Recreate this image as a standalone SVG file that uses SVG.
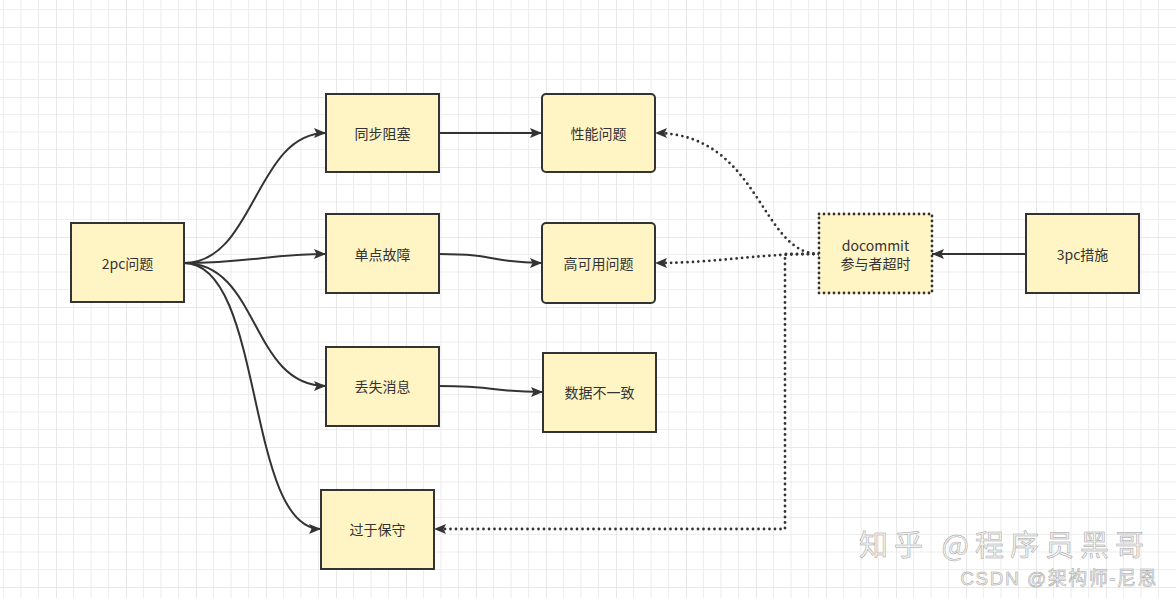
<svg xmlns="http://www.w3.org/2000/svg" width="1176" height="598" viewBox="0 0 1176 598">
<defs>
  <pattern id="grid" patternUnits="userSpaceOnUse" x="56" y="27" width="70" height="70">
    <path d="M17.5 0V70M35 0V70M52.5 0V70M0 17.5H70M0 35H70M0 52.5H70" stroke="#eeeeee" stroke-width="1.2" fill="none"/>
    <path d="M0 0V70M0 0H70" stroke="#e2e2e2" stroke-width="1.6" fill="none"/>
  </pattern>
  <marker id="arr" viewBox="0 0 12 10" refX="12" refY="5" markerWidth="12" markerHeight="10" markerUnits="userSpaceOnUse" orient="auto">
    <path d="M0 0L12 5L0 10L2.5 5Z" fill="#333"/>
  </marker>
  <style>
    .n rect{fill:#fff4c3;stroke:#333;stroke-width:2}
    .n rect.dot{stroke-dasharray:0 5;stroke-linecap:round;stroke-width:2.8}
    .n text{font-family:"Noto Sans CJK SC","Microsoft YaHei",sans-serif;font-size:14px;fill:#333;text-anchor:middle;dominant-baseline:central}
    .c path{fill:none;stroke:#333;stroke-width:2;marker-end:url(#arr)}
    .c path.d{stroke-dasharray:0 5.5;stroke-linecap:round;stroke-width:2.8}
    .wm{fill:#f3f3f3;stroke:#a0a0a0;stroke-width:0.5}
  </style>
</defs>
<rect width="1176" height="598" fill="#fff"/>
<rect width="1176" height="598" fill="url(#grid)"/>

<g id="connectors" class="c">
  <path d="M184 263C255 263 255 133 326 133"/>
  <path d="M184 263C250 263 270 254 326 254"/>
  <path d="M184 263C260 263 250 386 326 386"/>
  <path d="M184 263C265 263 245 529 321 529"/>
  <path d="M439 133L542 133"/>
  <path d="M439 254C500 254 490 263 542 263"/>
  <path d="M439 386C500 386 490 392 543 392"/>
  <path d="M1026 254L932 254"/>
  <path class="d" d="M819 254C760 254 760 133 655 133"/>
  <path class="d" d="M819 254C750 254 720 263 655 263"/>
  <path class="d" d="M819 254L785 254L785 529L434 529"/>
</g>

<g id="n2pc" class="n"><rect x="71" y="223" width="113" height="79"/><text x="127.5" y="263">2pc问题</text></g>
<g id="nsync" class="n"><rect x="326" y="94" width="113" height="78"/><text x="382.5" y="133">同步阻塞</text></g>
<g id="nsingle" class="n"><rect x="326" y="214" width="113" height="79"/><text x="382.5" y="254">单点故障</text></g>
<g id="nlost" class="n"><rect x="326" y="347" width="113" height="79"/><text x="382.5" y="386">丢失消息</text></g>
<g id="nconserv" class="n"><rect x="321" y="490" width="113" height="79"/><text x="377.5" y="529">过于保守</text></g>
<g id="nperf" class="n"><rect x="542" y="94" width="113" height="78" rx="4"/><text x="598.5" y="133">性能问题</text></g>
<g id="nha" class="n"><rect x="542" y="223" width="113" height="80" rx="4"/><text x="598.5" y="263">高可用问题</text></g>
<g id="ndata" class="n"><rect x="543" y="353" width="113" height="79"/><text x="599.5" y="392">数据不一致</text></g>
<g id="ndocommit" class="n"><rect class="dot" x="819" y="214" width="113" height="79"/><text x="875.5" y="245">docommit</text><text x="875.5" y="263">参与者超时</text></g>
<g id="n3pc" class="n"><rect x="1026" y="214" width="113" height="79"/><text x="1082.5" y="254">3pc措施</text></g>

<text class="wm" x="859" y="556" font-family="'Noto Sans CJK SC',sans-serif" font-size="29" letter-spacing="6">知乎 @程序员黑哥</text>
<text class="wm" x="1158" y="585" font-family="'Liberation Sans','Noto Sans CJK SC',sans-serif" font-size="19" letter-spacing="1.5" text-anchor="end">CSDN @架构师-尼恩</text>
</svg>
